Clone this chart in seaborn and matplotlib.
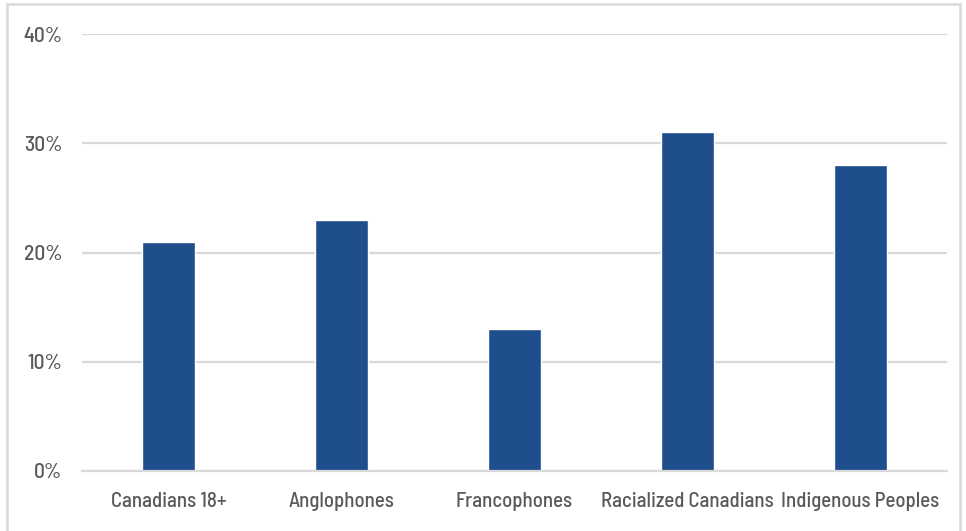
import matplotlib
matplotlib.use("Agg")
import matplotlib.pyplot as plt
from matplotlib.patches import Rectangle
from matplotlib.ticker import FuncFormatter
import seaborn as sns
import pandas as pd

categories = ["Canadians 18+", "Anglophones", "Francophones",
              "Racialized Canadians", "Indigenous Peoples"]
shares = [0.21, 0.23, 0.13, 0.31, 0.28]
y_ticks = [0.0, 0.1, 0.2, 0.3, 0.4]

df = pd.DataFrame({"group": categories, "share": shares})

sns.set_theme(style="white")
plt.rcParams["font.family"] = ["Barlow Semi Condensed", "DejaVu Sans"]
plt.rcParams["font.weight"] = 500

BAR = "#1F4E8C"
GRID = "#D9D9D9"
TEXT = "#595959"

fig = plt.figure(figsize=(9.66, 5.31), dpi=100)
ax = fig.add_axes([82 / 966, 60 / 531, 865 / 966, 437 / 531])

sns.barplot(data=df, x="group", y="share", color=BAR, width=0.31,
            saturation=1, ax=ax, zorder=3)

ax.set_ylim(0, 0.4)
ax.set_yticks(y_ticks)
ax.yaxis.set_major_formatter(FuncFormatter(lambda v, _: f"{v * 100:.0f}%"))
ax.set_xlim(-0.5, len(categories) - 0.5)
ax.set_xlabel("")
ax.set_ylabel("")

ax.grid(axis="y", color=GRID, linewidth=1.6, zorder=0)
ax.grid(axis="x", visible=False)
for side in ["top", "right", "left"]:
    ax.spines[side].set_visible(False)
ax.spines["bottom"].set_color(GRID)
ax.spines["bottom"].set_linewidth(1.6)
ax.spines["bottom"].set_zorder(4)

ax.tick_params(axis="both", length=0, colors=TEXT, labelsize=15)
ax.tick_params(axis="y", pad=14, labelsize=15.5)
ax.tick_params(axis="x", pad=15)

# thin frame around the whole figure
fig.patches.append(Rectangle((7 / 966, -0.02), 953 / 966, 1 - 4 / 531 + 0.02,
                             transform=fig.transFigure, fill=False,
                             edgecolor=GRID, linewidth=1.8))

fig.savefig("out.png", dpi=100)
